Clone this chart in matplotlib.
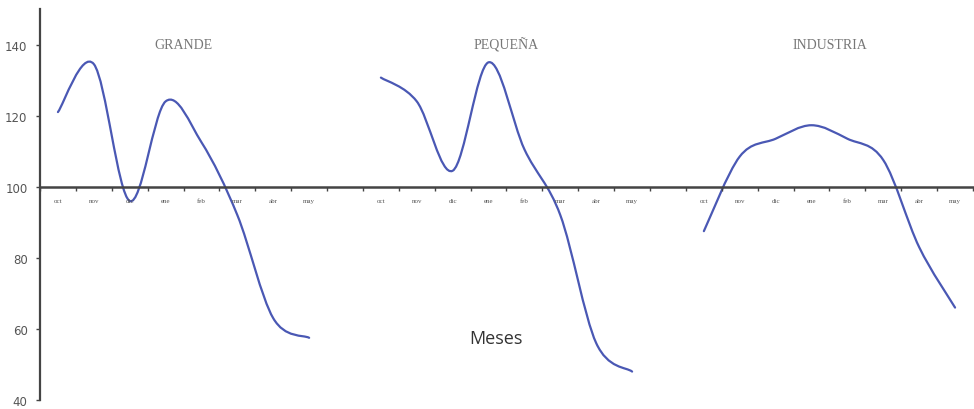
import numpy as np
import matplotlib.pyplot as plt
from matplotlib.path import Path
from matplotlib.patches import PathPatch

# meses de cada bloque
meses = ["oct", "nov", "dic", "ene", "feb", "mar", "abr", "may"]
titulos = ["GRANDE", "PEQUEÑA", "INDUSTRIA"]

# valores (indice, 100 = nivel base)
grande = [121, 134.5, 96, 124, 112.5, 92, 63, 57.5]
pequena = [130.7, 124, 104.5, 135, 110.5, 92, 56, 48]
industria = [87.5, 108.5, 113.5, 117.3, 113.5, 107.5, 83, 66]
series = [grande, pequena, industria]

# posicion de inicio de cada bloque en el eje de categorias (hueco de 1 entre bloques)
inicios = [0, 9, 18]
n_cat = 26

color = "#4a58b4"


def curva_suave(ax, xs, ys, **kw):
    # linea suavizada tipo Excel: bezier cubica por tramos (catmull-rom)
    pts = np.column_stack([xs, ys]).astype(float)
    n = len(pts)
    verts = [pts[0]]
    codes = [Path.MOVETO]
    for i in range(n - 1):
        p0 = pts[i - 1] if i > 0 else pts[i]
        p1 = pts[i]
        p2 = pts[i + 1]
        p3 = pts[i + 2] if i + 2 < n else pts[i + 1]
        c1 = p1 + (p2 - p0) / 6.0
        c2 = p2 - (p3 - p1) / 6.0
        verts += [c1, c2, p2]
        codes += [Path.CURVE4] * 3
    ax.add_patch(PathPatch(Path(verts, codes), fill=False, **kw))


fig = plt.figure(figsize=(9.74, 4.10), dpi=100)
ax = fig.add_axes([40 / 974, 9 / 410, 933 / 974, 391 / 410])

for ini, vals in zip(inicios, series):
    xs = np.arange(ini, ini + len(vals))
    curva_suave(ax, xs, vals, edgecolor=color, lw=1.6, capstyle="round", joinstyle="round")

ax.set_xlim(-0.5, n_cat - 0.5)
ax.set_ylim(40, 150)

# eje x cruzando en 100
ax.spines["top"].set_visible(False)
ax.spines["right"].set_visible(False)
ax.spines["bottom"].set_position(("data", 100))
ax.spines["bottom"].set_color("#444444")
ax.spines["bottom"].set_linewidth(1.8)
ax.spines["left"].set_color("#444444")
ax.spines["left"].set_linewidth(1.6)

etiquetas = [""] * n_cat
for ini in inicios:
    for j, m in enumerate(meses):
        etiquetas[ini + j] = m

ax.set_xticks(np.arange(-0.5, n_cat, 1.0))
ax.set_xticklabels([])
ax.set_xticks(np.arange(n_cat), minor=True)
ax.set_xticklabels(etiquetas, minor=True, fontsize=5, family="Liberation Serif", color="#555555")
ax.tick_params(axis="x", which="major", direction="out", length=3, width=1, color="#444444")
ax.tick_params(axis="x", which="minor", length=0, pad=8)

ax.set_yticks(np.arange(40, 141, 20))
ax.tick_params(axis="y", direction="out", length=3, width=1, color="#444444",
               labelsize=8.5, labelcolor="#555555", pad=6)

centros = [ini + 3.5 for ini in inicios]
for cx, t in zip(centros, titulos):
    ax.text(cx, 140.0, t, ha="center", va="center", fontsize=10,
            family="Liberation Serif", color="#777777")

ax.text(12.2, 57.4, "Meses", ha="center", va="center", fontsize=13,
        family="Open Sans", color="#333333")

fig.savefig("out.png", dpi=100)
